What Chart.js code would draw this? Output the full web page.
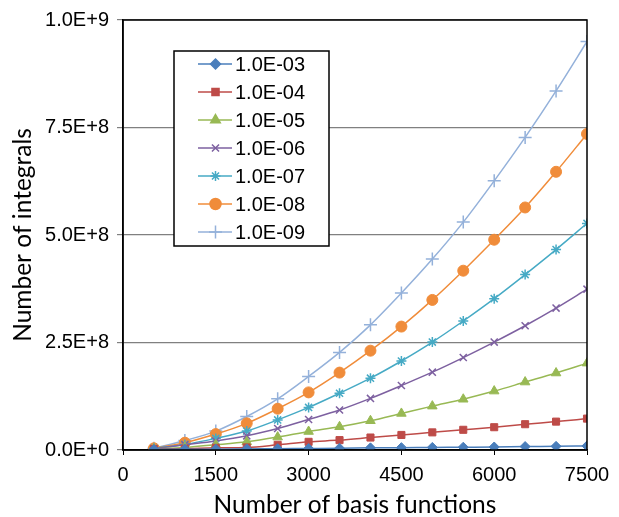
<!DOCTYPE html>
<html>
<head>
<meta charset="utf-8">
<script src="https://cdn.jsdelivr.net/npm/chart.js@4/dist/chart.umd.min.js"></script>
<style>
  html, body { margin: 0; padding: 0; background: #fff; }
  #wrap { width: 619px; height: 517px; }
</style>
</head>
<body>
<div id="wrap"><canvas id="integralsChart" width="619" height="517"></canvas></div>
<script>
// basis-function counts
const basisFunctions = [500, 1000, 1500, 2000, 2500, 3000, 3500, 4000, 4500, 5000, 5500, 6000, 6500, 7000, 7500];

// number of integrals per threshold
const thr1e03 = [1.5e6, 2e6, 2e6, 2.5e6, 3e6, 3.5e6, 4e6, 5e6, 5.5e6, 6e6, 6.5e6, 7e6, 8e6, 8.5e6, 9.5e6];
const thr1e04 = [2e6, 3e6, 5e6, 6e6, 12e6, 19e6, 23e6, 29e6, 35e6, 41e6, 47e6, 53e6, 60e6, 66e6, 73e6];
const thr1e05 = [2e6, 6e6, 12e6, 19e6, 30e6, 43e6, 54e6, 68e6, 85e6, 102e6, 118e6, 137e6, 158e6, 179e6, 202e6];
const thr1e06 = [3e6, 12e6, 21e6, 33e6, 50e6, 71e6, 93e6, 120e6, 150e6, 181e6, 215e6, 251e6, 289e6, 330e6, 374e6];
const thr1e07 = [4e6, 13e6, 27e6, 44e6, 70e6, 99e6, 132e6, 167e6, 207e6, 251e6, 300e6, 352e6, 408e6, 466e6, 527e6];
const thr1e08 = [4e6, 17e6, 37e6, 62e6, 96e6, 134e6, 180e6, 231e6, 287e6, 349e6, 417e6, 489e6, 564e6, 647e6, 735e6];
const thr1e09 = [4e6, 22e6, 44e6, 78e6, 119e6, 171e6, 227e6, 291e6, 365e6, 444e6, 530e6, 626e6, 727e6, 835e6, 950e6];

const seriesLabels = ['1.0E-03', '1.0E-04', '1.0E-05', '1.0E-06', '1.0E-07', '1.0E-08', '1.0E-09'];
const seriesValues = [thr1e03, thr1e04, thr1e05, thr1e06, thr1e07, thr1e08, thr1e09];
const seriesColors = ['#4A7EBB', '#BE4B48', '#98B954', '#7D60A0', '#46AAC5', '#F08C3A', '#94B1DA'];
const seriesPoints = ['rectRot', 'rect', 'triangle', 'crossRot', 'star', 'circle', 'cross'];
const pointSizes = [5, 5, 5.5, 5, 5, 5.5, 6.5];

const xTicks = [0, 1500, 3000, 4500, 6000, 7500];
const yTicks = [0, 2.5e8, 5e8, 7.5e8, 1e9];

const tickFont = { family: '"Liberation Sans", Arial', size: 20 };
const titleFont = { family: 'Lato', size: 24.5 };

const datasets = seriesLabels.map((label, i) => ({
    label: label,
    data: basisFunctions.map((x, j) => ({ x: x, y: seriesValues[i][j] })),
    borderColor: seriesColors[i],
    backgroundColor: seriesColors[i],
    borderWidth: 1.5,
    pointStyle: seriesPoints[i],
    pointRadius: pointSizes[i],
    pointBorderWidth: ['cross', 'crossRot', 'star'].includes(seriesPoints[i]) ? 1.5 : 1,
    cubicInterpolationMode: 'monotone',
    fill: false
}));

// box around the plot area
const frame = {
    id: 'frame',
    afterDatasetsDraw(chart) {
        const a = chart.chartArea;
        const ctx = chart.ctx;
        ctx.save();
        ctx.strokeStyle = '#000';
        ctx.lineWidth = 1.5;
        ctx.strokeRect(a.left, a.top, a.right - a.left, a.bottom - a.top);
        ctx.restore();
    }
};

// legend drawn inside the plot area, like the spreadsheet one
const boxLegend = {
    id: 'boxLegend',
    afterDraw(chart) {
        const ctx = chart.ctx;
        const bx = 174, by = 51, bw = 155, bh = 195;
        ctx.save();
        ctx.fillStyle = '#fff';
        ctx.fillRect(bx, by, bw, bh);
        ctx.strokeStyle = '#000';
        ctx.lineWidth = 1.5;
        ctx.strokeRect(bx, by, bw, bh);
        ctx.font = '20px "Liberation Sans", Arial';
        ctx.textBaseline = 'middle';
        chart.data.datasets.forEach((ds, i) => {
            const y = 64 + i * 28;
            ctx.strokeStyle = ds.borderColor;
            ctx.fillStyle = ds.borderColor;
            ctx.lineWidth = 1.5;
            ctx.beginPath();
            ctx.moveTo(198, y);
            ctx.lineTo(232, y);
            ctx.stroke();
            Chart.helpers.drawPoint(ctx, {
                pointStyle: ds.pointStyle,
                radius: ds.pointRadius,
                rotation: 0,
                borderWidth: ds.pointBorderWidth
            }, 215.5, y);
            ctx.fillStyle = '#000';
            ctx.fillText(ds.label, 235, y + 1);
        });
        ctx.restore();
    }
};

new Chart(document.getElementById('integralsChart').getContext('2d'), {
    type: 'line',
    data: { datasets: datasets },
    options: {
        responsive: false,
        animation: false,
        layout: { padding: { top: 19, right: 32, left: 0, bottom: 0 } },
        plugins: {
            legend: { display: false },
            tooltip: { enabled: false }
        },
        scales: {
            x: {
                type: 'linear',
                min: 0,
                max: 7500,
                afterBuildTicks: s => { s.ticks = xTicks.map(v => ({ value: v })); },
                afterFit: s => { s.height = 67; },
                ticks: { font: tickFont, color: '#000', padding: 8, maxRotation: 0, callback: v => String(v) },
                grid: { drawOnChartArea: false, color: '#000', tickLength: 5 },
                border: { color: '#000', width: 1.5 },
                title: {
                    display: true,
                    text: 'Number of basis functions',
                    font: titleFont,
                    color: '#000',
                    padding: { top: 0, bottom: -3 }
                }
            },
            y: {
                min: 0,
                max: 1e9,
                afterBuildTicks: s => { s.ticks = yTicks.map(v => ({ value: v })); },
                afterFit: s => { s.width = 123; },
                ticks: {
                    font: tickFont,
                    color: '#000',
                    padding: 8,
                    callback: v => Number(v).toExponential(1).toUpperCase()
                },
                grid: { color: '#808080', lineWidth: 1.2, tickLength: 6 },
                border: { color: '#000', width: 1.5 },
                title: {
                    display: true,
                    text: 'Number of integrals',
                    font: titleFont,
                    color: '#000',
                    padding: { top: 8, bottom: 0 }
                }
            }
        }
    },
    plugins: [frame, boxLegend]
});
</script>
</body>
</html>
